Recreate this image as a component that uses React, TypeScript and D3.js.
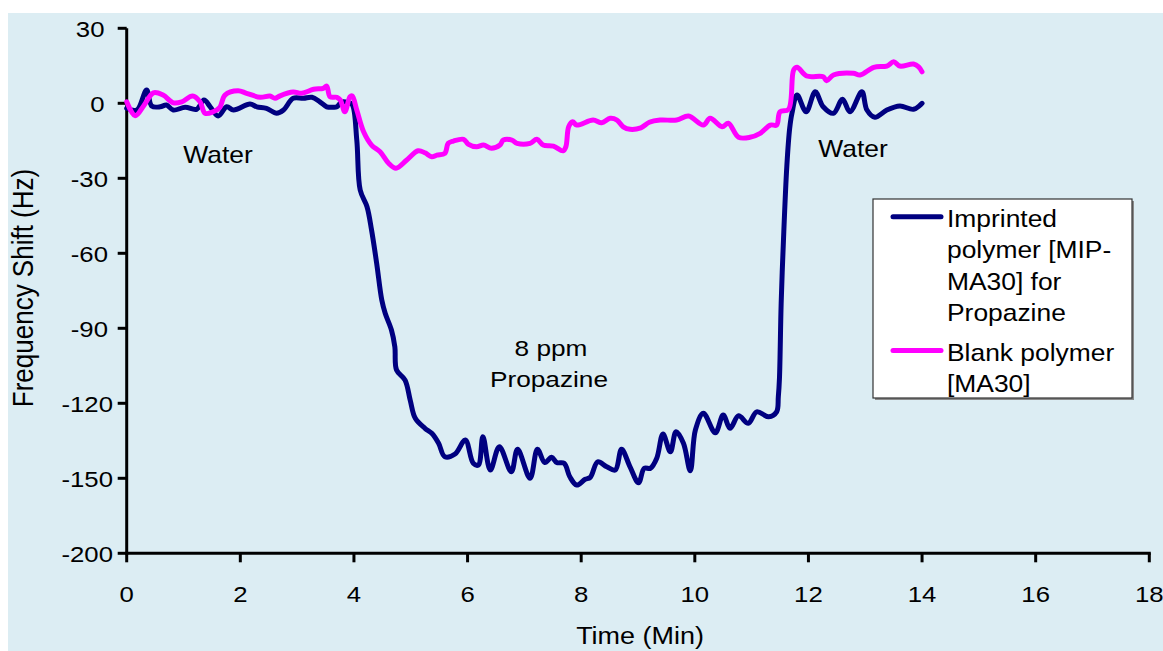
import React from "react";
import * as d3 from "d3";

// Imprinted polymer [MIP-MA30] response (time in min, shift in Hz)
const mipTime = [0, 0.18, 0.35, 0.44, 0.59, 0.7, 0.82, 1.03, 1.23, 1.36, 1.47, 1.61, 1.76, 1.88, 2.17, 2.29, 2.46, 2.64, 2.76, 2.93, 3.11, 3.26, 3.4, 3.52, 3.64, 3.7, 3.78, 3.9, 3.97, 4.05, 4.11, 4.23, 4.31, 4.4, 4.49, 4.55, 4.66, 4.72, 4.75, 4.9, 4.99, 5.08, 5.25, 5.37, 5.49, 5.6, 5.78, 5.96, 6.1, 6.19, 6.27, 6.4, 6.56, 6.77, 6.88, 7.1, 7.23, 7.36, 7.48, 7.57, 7.7, 7.8, 7.92, 8.07, 8.16, 8.29, 8.45, 8.6, 8.71, 8.86, 9.01, 9.11, 9.22, 9.33, 9.44, 9.57, 9.67, 9.8, 9.92, 10.01, 10.15, 10.36, 10.5, 10.62, 10.77, 10.94, 11.09, 11.3, 11.44, 11.47, 11.49, 11.52, 11.56, 11.62, 11.67, 11.71, 11.8, 11.96, 12.12, 12.26, 12.44, 12.6, 12.73, 12.94, 13.03, 13.17, 13.38, 13.61, 13.85, 14];
const mipShift = [-2, -2.7, 5.3, -1.1, -1.4, -0.7, -2.7, -1.6, -2.4, 1.3, -1.4, -5.1, -1.4, -2.7, -0.3, -1.4, -2, -4, -2.7, 2, 2, 2.4, 0.6, -1.4, -1.6, -1.4, 0.5, 0.3, -0.5, -14.7, -34.7, -41.4, -50.7, -64, -78.7, -84, -90.7, -97.4, -106.7, -110.7, -118.7, -126, -130, -132, -136, -141.4, -140.3, -134.7, -144, -144.7, -133.4, -146.7, -137.4, -147.4, -138.4, -150, -138.4, -143.7, -141.6, -143.7, -144, -149.4, -152.7, -150.4, -149.6, -143.4, -145.4, -146.7, -138.4, -145.4, -151.8, -146, -146, -142, -132.3, -139.4, -131.4, -136, -147, -130.7, -124, -131.8, -124.7, -130, -125, -128, -123.4, -125.4, -123.4, -117.4, -110, -80, -55, -25, -10, -4, 3.3, -3.4, 4.6, -1.4, -4, 1.6, -3.4, 4.6, -2.7, -5.6, -2.7, -1.1, -2.4, 0];

// Blank polymer [MA30] response
const blankTime = [0, 0.15, 0.3, 0.47, 0.64, 0.82, 0.97, 1.16, 1.29, 1.38, 1.52, 1.64, 1.73, 1.96, 2.11, 2.35, 2.52, 2.61, 2.7, 2.93, 3.08, 3.29, 3.46, 3.52, 3.58, 3.7, 3.76, 3.84, 3.93, 3.97, 4.05, 4.17, 4.31, 4.46, 4.61, 4.74, 4.93, 5.13, 5.25, 5.37, 5.46, 5.6, 5.66, 5.75, 5.93, 6.01, 6.16, 6.28, 6.42, 6.57, 6.63, 6.78, 6.87, 7.1, 7.22, 7.33, 7.51, 7.68, 7.73, 7.78, 7.85, 7.92, 8.21, 8.36, 8.51, 8.63, 8.74, 8.86, 9.05, 9.2, 9.39, 9.68, 9.89, 10.15, 10.27, 10.48, 10.59, 10.77, 10.97, 11.15, 11.33, 11.44, 11.5, 11.65, 11.74, 11.8, 11.97, 12.26, 12.32, 12.44, 12.79, 12.91, 13.15, 13.38, 13.5, 13.61, 13.85, 13.94, 14];
const blankShift = [0.6, -5, -1, 4.2, 3.3, 0.2, 0.6, 2.9, 0.6, -4, -3.4, -1.6, 3.3, 5, 4, 2.4, 2.9, 2, 3, 4.5, 4, 5.6, 6, 6.9, 2.6, 2.4, 1.3, -3.4, 2.6, 2.9, -2.7, -11.4, -16.7, -19.4, -24, -26, -22.7, -19, -19.8, -21.4, -20.7, -20, -16, -15.1, -14.4, -16.3, -17.4, -16.7, -18, -16.7, -14.7, -14.7, -16, -16, -14.4, -16.7, -17.1, -19, -17.4, -9.4, -7.4, -8.7, -6.7, -7.8, -6, -6.7, -9.4, -10.4, -9.8, -7.6, -6.7, -6.7, -5.1, -8.7, -6, -9.4, -8, -13.6, -13.6, -12, -8.7, -8.7, -3.4, -2.4, 13.3, 14.4, 10.9, 10.6, 9, 11.3, 12, 11.3, 14.4, 14.9, 16.6, 14.9, 15.7, 14.6, 12.6];

const xTicks = [0, 2, 4, 6, 8, 10, 12, 14, 16, 18];
const yTicks = [30, 0, -30, -60, -90, -120, -150, -180];
const yTickLabels = ["30", "0", "-30", "-60", "-90", "-120", "-150", "-200"];

const legendEntries = [
  { lines: ["Imprinted", "polymer [MIP-", "MA30] for", "Propazine"], color: "#000080" },
  { lines: ["Blank polymer", "[MA30]"], color: "#FF00FF" },
];

const FONT = "'Liberation Sans', Arial, Helvetica, sans-serif";

function Label({ x, y, text, size, sx = 1, anchor = "middle" }: { x: number; y: number; text: string; size: number; sx?: number; anchor?: string }) {
  return (
    <text
      transform={`translate(${x},${y}) scale(${sx},1)`}
      fontFamily={FONT}
      fontSize={size}
      textAnchor={anchor}
      fill="#000"
    >
      {text}
    </text>
  );
}

// right edge of a value-axis label: shorter labels sit a little further in
function yLabelRight(s: string) {
  if (s.length >= 4) return 113;
  if (s.length === 3) return 108;
  return 104.5;
}

export default function App() {
  const W = 1163;
  const H = 651;
  const x = d3.scaleLinear().domain([0, 18]).range([126.7, 1149.3]);
  const y = d3.scaleLinear().domain([-180, 30]).range([553.3, 28.3]);

  const line = d3
    .line<[number, number]>()
    .x((d) => x(d[0]))
    .y((d) => y(d[1]))
    .curve(d3.curveCatmullRom.alpha(0.5));

  const mip: [number, number][] = mipTime.map((t, i) => [t, mipShift[i]]);
  const blank: [number, number][] = blankTime.map((t, i) => [t, blankShift[i]]);

  const x0 = x(0);
  const yBase = y(-180);

  const legendX = 873;
  const legendY = 199;
  const lineH = 31.5;

  let row = 0;
  const legendItems = legendEntries.map((e, k) => {
    const startRow = row + (k > 0 ? 0.25 : 0);
    row = startRow + e.lines.length;
    return { ...e, startRow };
  });

  return (
    <svg
      width={W}
      height={H}
      style={{ position: "absolute", left: 0, top: 0, background: "#fff" }}
    >
      <rect x={8} y={13} width={W - 8} height={H - 13} fill="#DCEDF3" />

      {/* axes */}
      <line x1={x0} x2={x0} y1={y(30)} y2={yBase + 1.5} stroke="#000" strokeWidth={3} />
      <line x1={x0 - 1.5} x2={x(18) + 1.5} y1={yBase} y2={yBase} stroke="#000" strokeWidth={3} />

      {yTicks.map((v, i) => (
        <g key={"y" + v}>
          <line x1={x0 - 9} x2={x0} y1={y(v)} y2={y(v)} stroke="#000" strokeWidth={3} />
          <Label x={yLabelRight(yTickLabels[i])} y={y(v) + 8.3} text={yTickLabels[i]} size={23} sx={1.12} anchor="end" />
        </g>
      ))}

      {xTicks.map((v) => (
        <g key={"x" + v}>
          <line x1={x(v)} x2={x(v)} y1={yBase} y2={yBase + 9} stroke="#000" strokeWidth={3} />
          <Label x={x(v)} y={601.5} text={String(v)} size={23} sx={1.12} />
        </g>
      ))}

      {/* axis titles */}
      <Label x={640} y={644} text="Time (Min)" size={24.5} sx={1.1} />
      <text
        transform="translate(33,288) rotate(-90) scale(1,1.1)"
        fontFamily={FONT}
        fontSize={26}
        textAnchor="middle"
        fill="#000"
      >
        Frequency Shift (Hz)
      </text>

      {/* series */}
      <path d={line(mip) ?? ""} fill="none" stroke="#000080" strokeWidth={5} strokeLinejoin="round" strokeLinecap="round" />
      <path d={line(blank) ?? ""} fill="none" stroke="#FF00FF" strokeWidth={5} strokeLinejoin="round" strokeLinecap="round" />

      {/* annotations */}
      <Label x={218} y={163} text="Water" size={23} sx={1.15} />
      <Label x={853} y={156.5} text="Water" size={23} sx={1.15} />
      <Label x={551} y={355.7} text="8 ppm" size={21.5} sx={1.22} />
      <Label x={549} y={386.7} text="Propazine" size={21.5} sx={1.22} />

      {/* legend */}
      <rect x={legendX + 2} y={legendY + 2} width={259} height={199} fill="#8a8a8a" />
      <rect x={legendX} y={legendY} width={259} height={199} fill="#fff" stroke="#333" strokeWidth={1.2} />
      {legendItems.map((e) => (
        <g key={e.color}>
          <line
            x1={893}
            x2={941}
            y1={226.7 + e.startRow * lineH - 10}
            y2={226.7 + e.startRow * lineH - 10}
            stroke={e.color}
            strokeWidth={5}
            strokeLinecap="round"
          />
          {e.lines.map((t, j) => (
            <Label key={t} x={947} y={226.7 + (e.startRow + j) * lineH} text={t} size={24} sx={1.1} anchor="start" />
          ))}
        </g>
      ))}
    </svg>
  );
}
